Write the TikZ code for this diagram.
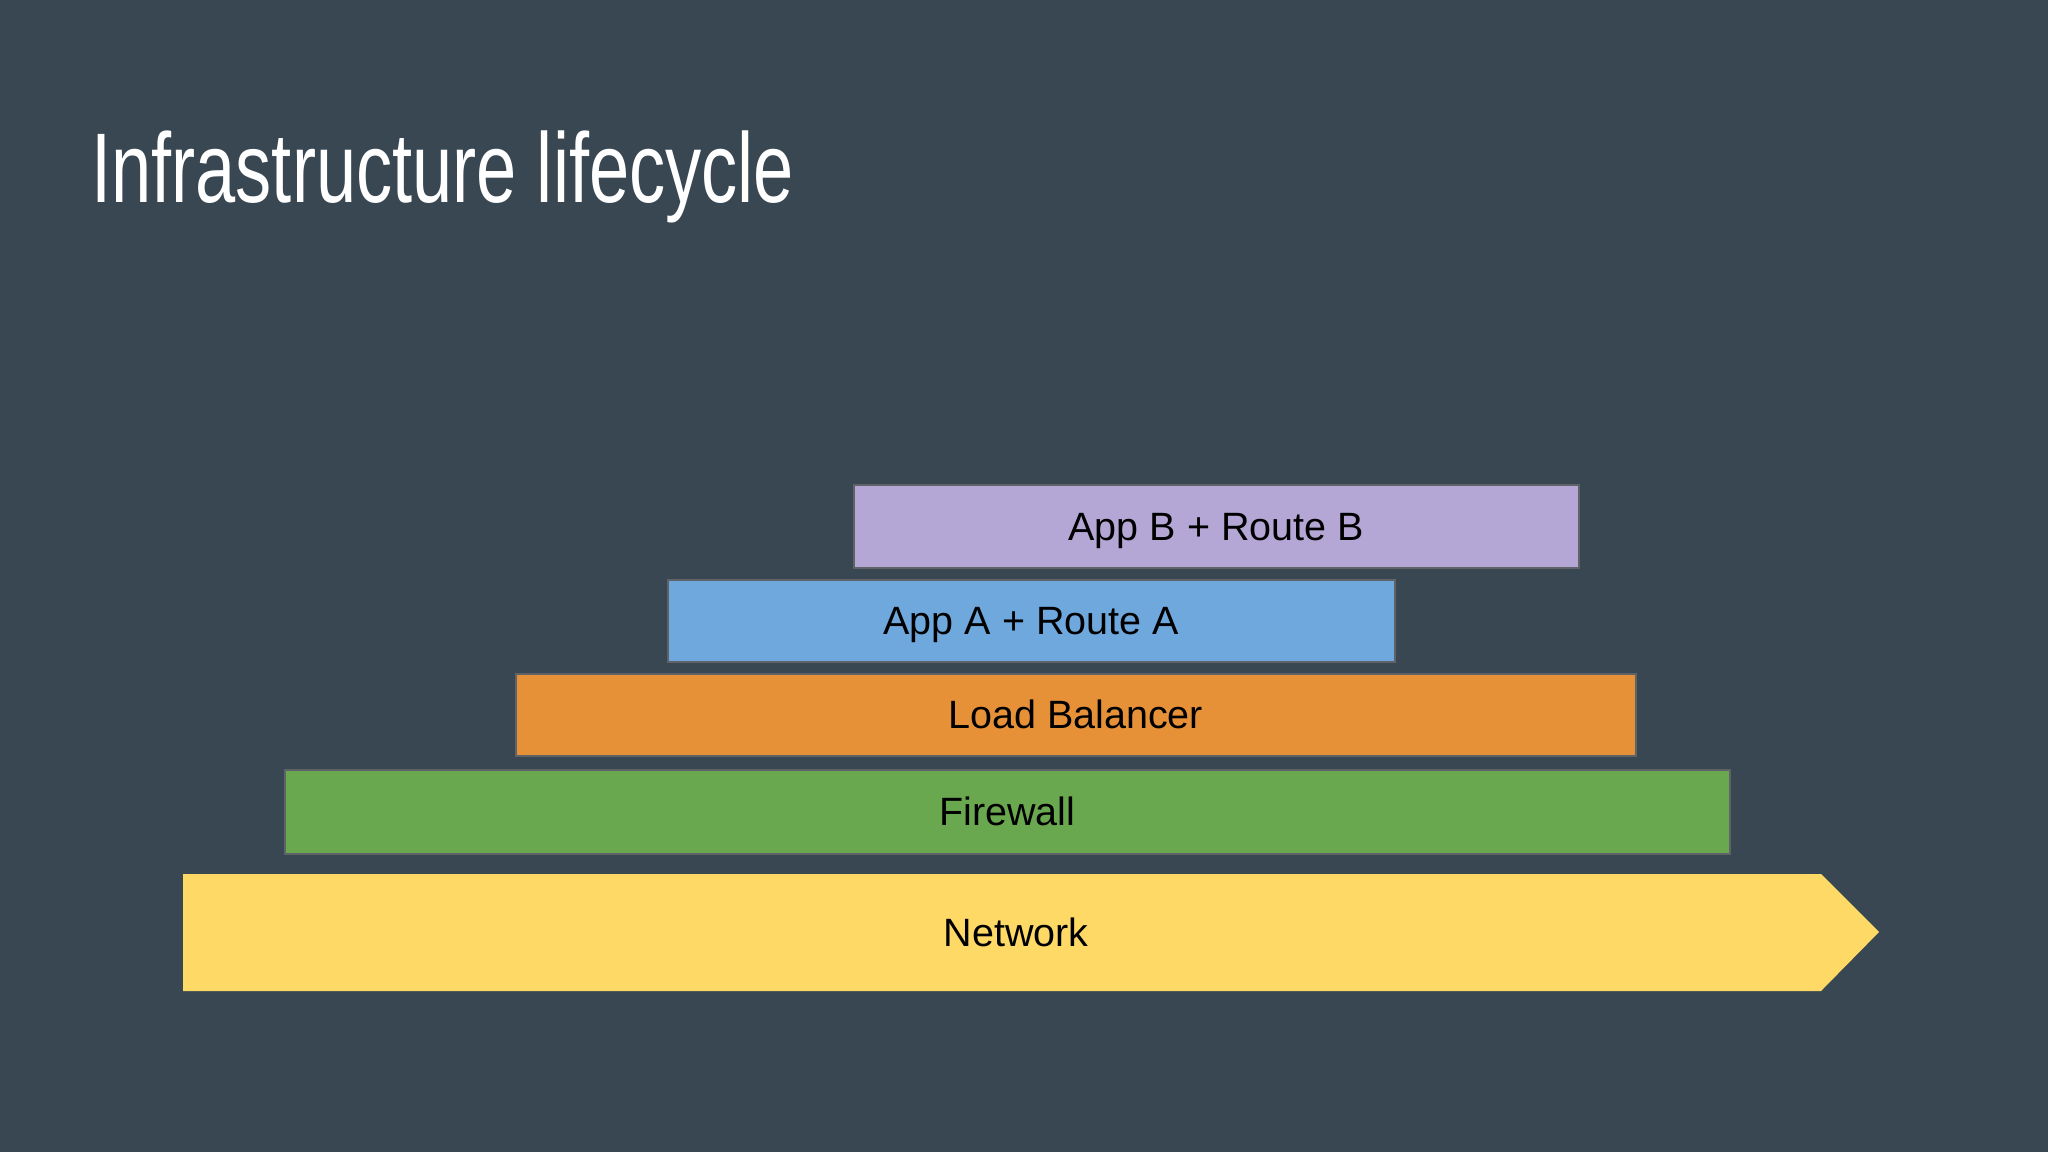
\documentclass[tikz,border=0pt]{standalone}
\usepackage{fontspec}
\setmainfont{Liberation Sans}
\definecolor{bgc}{HTML}{384751}
\definecolor{cpurple}{HTML}{B4A7D6}
\definecolor{cblue}{HTML}{6FA8DC}
\definecolor{corange}{HTML}{E69138}
\definecolor{cgreen}{HTML}{6AA84F}
\definecolor{cyellow}{HTML}{FFD966}
\definecolor{cedge}{HTML}{5F6368}
\tikzset{
  lbl/.style={font=\fontsize{39.5}{47}\selectfont, text=black, text height=28.3pt, text depth=0pt},
  layer/.style={lbl, draw=cedge, line width=1.5pt, anchor=north west, inner sep=0pt},
}
\begin{document}
\begin{tikzpicture}[x=1pt,y=-1pt]
\fill[bgc] (0,0) rectangle (2048,1152);
\useasboundingbox (0,0) rectangle (2048,1152);
\node[anchor=base west, inner sep=0pt, text=white] (title) at (91,202)
  {\scalebox{0.73}[1]{\fontsize{99}{118}\selectfont Infrastructure lifecycle}};
\node[layer, fill=cpurple, minimum width=725pt, minimum height=83pt] (appb) at (853,484) {App B + Route B};
\node[layer, fill=cblue, minimum width=727pt, minimum height=82pt] (appa) at (667,579) {App A + Route A};
\node[layer, fill=corange, minimum width=1120pt, minimum height=82pt] (lb) at (515,673) {Load Balancer};
\node[layer, fill=cgreen, minimum width=1445pt, minimum height=84pt] (fw) at (284,769) {Firewall};
\fill[cyellow] (183,874) -- (1821,874) -- (1879,932) -- (1821,991) -- (183,991) -- cycle;
\node[lbl, inner sep=0pt] (net) at (1016,932) {Network};
\end{tikzpicture}
\end{document}
